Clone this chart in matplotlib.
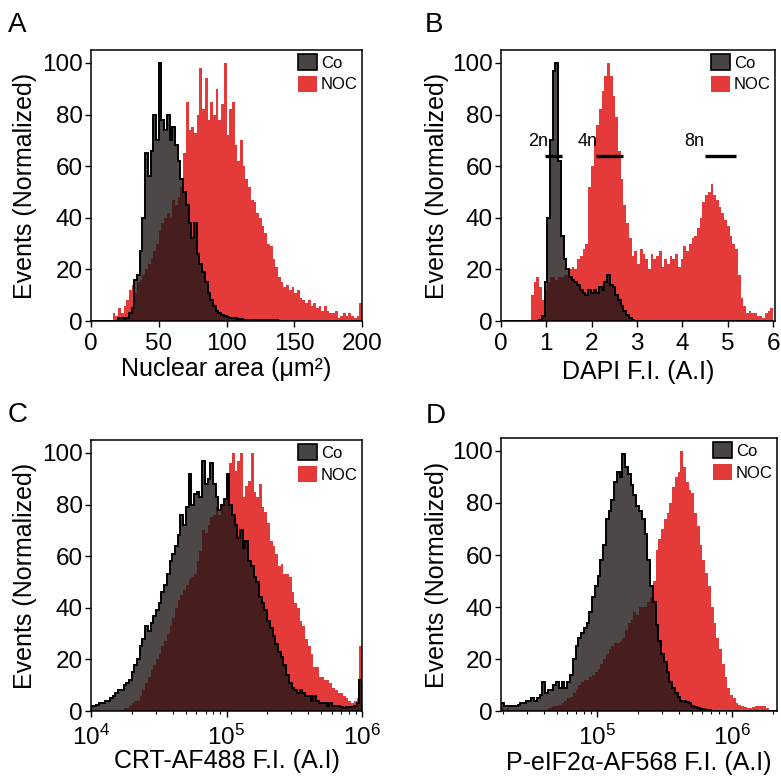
import numpy as np
import matplotlib
matplotlib.use("Agg")
import matplotlib.pyplot as plt
from matplotlib.patches import Patch

plt.rcParams['font.family'] = ['Liberation Sans', 'DejaVu Sans']
plt.rcParams['mathtext.fontset'] = 'custom'
plt.rcParams['mathtext.rm'] = 'Liberation Sans'
plt.rcParams['mathtext.it'] = 'Liberation Sans:italic'

# ---- data (normalized event counts per bin) ----
# A: nuclear area, 100 bins of width 2 um^2 over 0-200
area_range = (0, 200)
area_co = [0, 0, 0, 0, 0, 0, 0, 0, 0, 0,
           1, 1, 0.5, 1, 3, 5, 16, 18, 27, 40,
           65, 56, 66, 80, 70, 100, 78, 74, 80, 70,
           75, 68, 62, 55, 50, 45, 38, 32, 38, 26,
           22, 19, 15, 11, 8, 6, 4, 3, 2.5, 2,
           1.5, 1, 1, 1.2, 0.8, 0.6, 0.5, 0.4, 0.5, 0.3,
           0.4, 0.3, 0.3, 0.2, 0.3, 0.2, 0.2, 0.1, 0.2, 0.1,
           0.1, 0.1, 0, 0.1, 0, 0, 0, 0, 0, 0,
           0, 0, 0, 0, 0, 0, 0, 0, 0, 0,
           0, 0, 0, 0, 0, 0, 0, 0, 0, 0]
area_noc = [0, 0, 0, 0, 0, 0, 0, 0, 3, 2,
            5, 3, 6, 8, 12, 14, 11, 15, 16, 18,
            20, 22, 24, 27, 30, 35, 38, 40, 42, 40,
            47, 45, 48, 52, 65, 85, 74, 75, 73, 80,
            98, 82, 94, 78, 85, 80, 90, 78, 84, 100,
            72, 82, 85, 68, 62, 70, 60, 55, 52, 47,
            46, 42, 40, 37, 34, 30, 29, 24, 21, 17,
            15, 13, 14, 12, 13, 11, 12, 9, 8, 7,
            8, 6, 7, 5, 6, 4, 6, 4, 3, 3,
            4, 1, 2, 3, 2, 3, 2, 1, 2, 7]

# B: DAPI intensity, 100 bins of width 0.06 over 0-6
dapi_range = (0, 6)
dapi_co = [0, 0, 0, 0, 0, 0, 0, 0, 0, 0,
           0, 0, 0, 0, 0.5, 2, 15, 40, 70, 97,
           100, 62, 33, 24, 20, 17, 16, 15, 14, 12,
           11, 10, 12, 11, 12, 11, 13, 12, 15, 18,
           14, 13, 10, 8, 6, 4, 2.5, 1, 0.3, 0,
           0, 0, 0, 0, 0, 0, 0, 0, 0, 0,
           0, 0, 0, 0, 0, 0, 0, 0, 0, 0,
           0, 0, 0, 0, 0, 0, 0, 0, 0, 0,
           0, 0, 0, 0, 0, 0, 0, 0, 0, 0,
           0, 0, 0, 0, 0, 0, 0, 0, 0, 0]
dapi_noc = [0, 0, 0, 0, 0, 0, 0, 0, 0, 0,
            0, 10, 15, 17, 13, 8, 12, 15, 17, 17,
            16, 17, 17, 18, 18, 20, 21, 20, 24, 25,
            28, 30, 52, 60, 70, 76, 82, 89, 95, 100,
            95, 87, 79, 66, 55, 45, 38, 32, 25, 27,
            22, 28, 26, 24, 20, 26, 24, 25, 27, 21,
            24, 22, 25, 24, 26, 21, 24, 29, 27, 30,
            32, 33, 36, 40, 46, 49, 50, 53, 49, 47,
            44, 42, 39, 37, 33, 30, 28, 18, 9, 6,
            3, 4, 3, 3, 2, 2, 1, 3, 4, 5]
ploidy_labels = ['2n', '4n', '8n']
ploidy_label_x = [0.81, 1.91, 4.27]
ploidy_bars = [(0.97, 1.35), (2.09, 2.69), (4.49, 5.19)]
ploidy_bar_y = 64

# C: CRT-AF488 intensity, 100 log bins over 1e4-1e6
crt_range = (4, 6)
crt_co = [2, 2, 2.5, 3, 3, 4, 4, 5, 6, 7,
          8, 8, 10, 11, 12, 15, 18, 20, 25, 28,
          33, 31, 34, 37, 39, 42, 46, 49, 53, 58,
          61, 64, 68, 76, 72, 79, 92, 80, 84, 85,
          83, 97, 88, 90, 96, 88, 83, 78, 80, 82,
          92, 80, 76, 72, 67, 70, 63, 66, 58, 56,
          52, 50, 44, 42, 39, 35, 32, 29, 26, 23,
          21, 18, 14, 11, 9, 8, 7, 8, 7, 6,
          6, 4, 6, 4, 3, 3, 3, 2, 3, 2,
          2, 2, 1.5, 1, 1.5, 1.5, 1.5, 2, 3, 12]
crt_noc = [0, 0, 0, 0, 0, 0, 0, 0, 0, 0,
           0, 0.5, 1, 1, 2, 3, 4, 4, 6, 8,
           11, 13, 16, 18, 20, 22, 25, 27, 30, 33,
           36, 40, 43, 45, 47, 49, 51, 52, 53, 58,
           62, 70, 69, 72, 75, 76, 79, 76, 80, 82,
           87, 96, 100, 93, 97, 100, 83, 87, 89, 100,
           85, 83, 88, 79, 77, 73, 66, 64, 61, 56,
           57, 53, 53, 52, 46, 42, 40, 35, 33, 28,
           25, 22, 17, 17, 13, 13, 12, 12, 11, 9,
           8, 7, 7, 6, 5, 4, 3, 4, 5, 25]

# D: P-eIF2a-AF568 intensity, 100 log bins over 10^4.287-10^6.331
peif_range = (4.287, 6.331)
peif_co = [3, 2, 2, 2, 2, 2, 2.5, 3, 3, 4,
           4, 5, 4, 5, 6, 11, 7, 8, 8, 10,
           11, 9, 11, 9, 11, 14, 20, 25, 28, 30,
           32, 34, 38, 44, 48, 52, 58, 64, 74, 77,
           81, 88, 92, 90, 99, 94, 91, 87, 83, 79,
           77, 74, 68, 58, 48, 42, 33, 27, 22, 19,
           15, 11, 9, 7, 5.5, 4, 4, 3.5, 3, 2,
           1.5, 1, 0.8, 0.6, 0.5, 0.4, 0, 0, 0, 0,
           0, 0, 0, 0, 0, 0, 0, 0, 0, 0,
           0, 0, 0, 0, 0, 0, 0, 0, 0, 0]
peif_noc = [1, 0.5, 1, 0.5, 0.3, 0.3, 0.3, 0.3, 0.3, 0.3,
            0.3, 0.3, 0.3, 0.3, 0.3, 0.5, 0.5, 1, 1.5, 2,
            2, 2.5, 3, 4, 5, 5.5, 7, 8, 10, 11,
            12, 12, 13, 14, 15, 16, 18, 20, 22, 24,
            25, 26, 26, 27, 28, 31, 34, 35, 38, 37,
            40, 40, 40, 42, 44, 50, 62, 66, 70, 74,
            76, 80, 86, 90, 92, 100, 94, 88, 85, 84,
            76, 71, 64, 58, 53, 48, 40, 34, 28, 24,
            18, 13, 9, 6, 5, 3, 2.5, 2, 1.5, 1,
            1, 1.5, 2, 2, 2, 2, 1, 0.5, 0, 0]

# ---- styling ----
RED = '#e53a3a'
CO_FILL = '#1e1616'
LABEL_FS = 18
TICK_FS = 17.5

fig = plt.figure(figsize=(7.81, 7.77), dpi=100)

W, H = 781, 777


def make_ax(left, top, right, bottom):
    return fig.add_axes([left / W, 1 - bottom / H, (right - left) / W, (bottom - top) / H])


def draw_hist(ax, co, noc, edges):
    ax.stairs(noc, edges, fill=True, color=RED, lw=0, zorder=1)
    ax.stairs(co, edges, fill=True, color=CO_FILL, alpha=0.79, lw=0, zorder=2)
    ax.stairs(co, edges, color='black', lw=1.4, zorder=3)


def style_ax(ax, xlabel, xlab_y, ylab_x, xpad):
    ax.set_ylim(0, 105)
    ax.set_yticks([0, 20, 40, 60, 80, 100])
    ax.tick_params(direction='out', length=4, width=1, labelsize=TICK_FS, pad=2)
    ax.tick_params(axis='x', pad=xpad)
    ax.tick_params(which='minor', direction='out', length=2, width=0.8)
    for s in ax.spines.values():
        s.set_linewidth(1.1)
    ax.set_ylabel('Events (Normalized)', fontsize=LABEL_FS)
    ax.set_xlabel(xlabel, fontsize=LABEL_FS)
    ax.yaxis.set_label_coords(ylab_x, 0.5)
    ax.yaxis.label.set_va('center')
    ax.xaxis.set_label_coords(0.5, xlab_y)
    ax.xaxis.label.set_va('center')
    handles = [Patch(facecolor='#4a4343', edgecolor='black', lw=1.2),
               Patch(facecolor=RED, edgecolor=RED, lw=0)]
    ax.legend(handles, ['Co', 'NOC'], loc='upper right', frameon=False,
              fontsize=12, handlelength=1.1, handleheight=1.1,
              handletextpad=0.25, labelspacing=0.3, borderaxespad=0.15,
              borderpad=0.1)


# Panel A
axA = make_ax(91, 50, 362, 321)
edgesA = np.linspace(area_range[0], area_range[1], len(area_co) + 1)
draw_hist(axA, area_co, area_noc, edgesA)
axA.set_xlim(*area_range)
axA.set_xticks([0, 50, 100, 150, 200])
style_ax(axA, 'Nuclear area (\u03bcm\u00b2)', -0.177, -0.245, 4.5)

# Panel B
axB = make_ax(501, 50, 775, 321)
edgesB = np.linspace(dapi_range[0], dapi_range[1], len(dapi_co) + 1)
draw_hist(axB, dapi_co, dapi_noc, edgesB)
axB.set_xlim(0, 6.04)
axB.set_xticks([0, 1, 2, 3, 4, 5, 6])
for lab, lx, (x0, x1) in zip(ploidy_labels, ploidy_label_x, ploidy_bars):
    axB.text(lx, 69.5, lab, fontsize=13, ha='center', va='center', zorder=5)
    axB.plot([x0, x1], [ploidy_bar_y, ploidy_bar_y], color='black', lw=2.4,
             solid_capstyle='butt', zorder=5)
style_ax(axB, 'DAPI F.I. (A.I)', -0.188, -0.232, 4.5)

# Panel C
axC = make_ax(91, 440, 362, 711)
edgesC = np.logspace(crt_range[0], crt_range[1], len(crt_co) + 1)
draw_hist(axC, crt_co, crt_noc, edgesC)
axC.set_xscale('log')
axC.set_xlim(10 ** crt_range[0], 10 ** crt_range[1])
axC.set_xticks([1e4, 1e5, 1e6])
style_ax(axC, 'CRT-AF488 F.I. (A.I)', -0.185, -0.245, 6)

# Panel D
axD = make_ax(501, 438, 777, 711)
edgesD = np.logspace(peif_range[0], peif_range[1], len(peif_co) + 1)
draw_hist(axD, peif_co, peif_noc, edgesD)
axD.set_xscale('log')
axD.set_xlim(10 ** peif_range[0], 10 ** peif_range[1])
axD.set_xticks([1e5, 1e6])
style_ax(axD, 'P-eIF2\u03b1-AF568 F.I. (A.I)', -0.19, -0.232, 6)

# panel letters
for lab, x, y in [('A', 8, 12), ('B', 425, 12), ('C', 8, 402), ('D', 426, 403)]:
    fig.text(x / W, 1 - y / H, lab, fontsize=20, ha='left', va='top')

fig.savefig('out.png', dpi=100)
